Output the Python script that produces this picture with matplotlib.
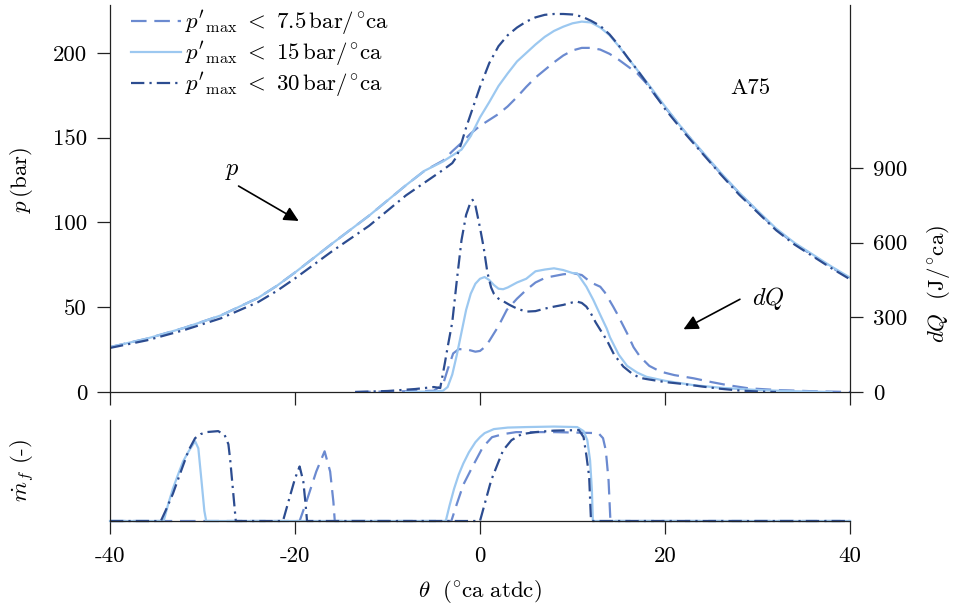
import matplotlib
matplotlib.use("Agg")
import matplotlib.pyplot as plt

plt.rcParams['font.family'] = 'serif'
plt.rcParams['font.serif'] = ['cmr10', 'DejaVu Serif']
plt.rcParams['mathtext.fontset'] = 'cm'
plt.rcParams['axes.unicode_minus'] = False
plt.rcParams['axes.formatter.use_mathtext'] = False

FS = 16.5

# ---------------- data ----------------
labels = [r"$p'_{\mathrm{max}}\ <\ 7.5\,\mathrm{bar}/^{\circ}\mathrm{ca}$",
          r"$p'_{\mathrm{max}}\ <\ 15\,\mathrm{bar}/^{\circ}\mathrm{ca}$",
          r"$p'_{\mathrm{max}}\ <\ 30\,\mathrm{bar}/^{\circ}\mathrm{ca}$"]
colors = ['#6B8AD0', '#9CC8F0', '#2C4C90']

# pressure (bar)
th_p15 = [-40, -36, -32, -28, -24, -22, -20, -18, -16, -12, -8, -6, -4, -3, -2, -1, 0, 1, 2, 3, 4, 5,
          6, 7, 8, 9, 10, 11, 12, 13, 14, 15, 16, 17, 18, 20, 22, 24, 26, 28, 30, 32, 34, 36, 38, 40]
p15 = [26.5, 31.5, 37.8, 45.2, 55.5, 62.5, 70.5, 79, 87.5, 104, 122, 130.5, 136, 139.5, 143, 151, 162,
       171, 180.5, 188, 195, 200, 205, 209.5, 213, 215.5, 217.5, 218.5, 218, 215, 210.5, 204, 197,
       190, 183, 168.5, 154.5, 142, 129.5, 117.7, 107, 96.5, 88, 81, 74, 67.5]

th_p75 = [-40, -36, -32, -28, -24, -22, -20, -18, -16, -12, -8, -6, -4, -3, -2, -1, 0, 1, 2, 3, 4, 5,
          6, 7, 8, 9, 10, 11, 12, 13, 14, 15, 16, 17, 18, 19, 20, 22, 24, 26, 28, 30, 32, 34, 36, 38, 40]
p75 = [26.5, 31.5, 37.8, 45.2, 55.5, 62.5, 70.5, 79, 87.5, 104, 122, 130.5, 136.5, 142, 147, 152.5,
       157, 160.5, 164, 168.5, 174, 180, 185.5, 190, 194.5, 198.5, 201.5, 203, 203, 202, 199.5, 196,
       192, 188, 182, 174.5, 168, 154.5, 141.5, 129, 117.5, 106.5, 96, 87.5, 80.5, 73.5, 67]

th_p30 = [-40, -36, -32, -28, -24, -22, -20, -18, -16, -12, -8, -6, -4, -3, -2.5, -2, -1.5, -1, -0.5,
          0, 0.5, 1, 2, 3, 4, 5, 6, 7, 8, 9, 10, 11, 12, 13, 14, 15, 16, 17, 18, 20, 22, 24, 26, 28,
          30, 32, 34, 36, 38, 40]
p30 = [26, 30.5, 36.5, 43.5, 53, 59.5, 67, 75, 83, 98, 116, 123.5, 131, 135, 139, 147, 156, 164,
       172, 180, 187, 194, 204, 210.5, 215, 218.5, 221, 222.5, 223, 223, 222.7, 221.5, 219, 216,
       211, 204.5, 197, 190, 182.5, 167, 153.5, 141, 128.5, 116.5, 106, 95.5, 87, 80, 73, 66.5]

# heat release rate (J/deg ca)
th_q75 = [-13.5, -8, -5, -4, -3.5, -2.9, -2.3, -1.5, -0.5, 0, 0.5, 1, 2, 2.9, 4, 5, 6, 7, 7.6, 9, 10.1,
          11, 11.5, 12, 13, 13.5, 14.4, 14.8, 15.9, 16.6, 17.3, 18.3, 19.5, 21, 23.1, 25, 26.7, 29,
          32.1, 36, 40]
q75 = [0, 3, 5, 30, 90, 155, 172, 172, 162, 165, 180, 205, 265, 330, 375, 410, 440, 458, 463, 473,
       477, 470, 455, 440, 423, 400, 343, 316, 236, 180, 142, 105, 82, 68, 55, 40, 28, 15, 8, 3, 0]

th_q15 = [-8, -5, -4, -3.5, -3, -2.5, -2, -1.5, -1, -0.5, 0, 0.5, 1, 1.5, 2, 2.5, 3, 3.5, 4, 5, 6, 7,
          8, 9, 10, 10.5, 11, 11.5, 12.25, 13, 13.7, 14.05, 15, 15.9, 17, 18, 20, 23, 26, 30, 34, 38]
q15 = [0, 2, 5, 20, 70, 150, 240, 330, 395, 435, 455, 462, 450, 430, 415, 413, 420, 430, 440, 455,
       485, 492, 497, 490, 478, 477, 450, 423, 370, 310, 255, 220, 150, 105, 78, 61, 45, 28, 17, 8,
       3, 0]

th_q30 = [-13.5, -10, -7, -5, -4.3, -3.8, -3.5, -3, -2.5, -2, -1.5, -1, -0.8, -0.5, 0, 0.4, 0.8, 1.2,
          1.5, 2, 2.5, 3.2, 4, 5, 6, 7, 8, 9, 10, 10.5, 11, 11.5, 12, 12.5, 13, 13.7, 14.5, 15.5, 16.5,
          17.3, 18, 20, 22, 24, 26, 28, 30, 32]
q30 = [0, 4, 12, 20, 16, 116, 180, 280, 450, 610, 712, 765, 772, 750, 660, 580, 480, 420, 395, 375,
       365, 350, 335, 323, 325, 335, 343, 350, 360, 363, 358, 343, 315, 280, 250, 209, 150, 102, 72,
       57, 52, 40, 32, 22, 13, 6, 2, 0]

# injection rate (normalised)
th_m75 = [-40, -19.5, -18.7, -17.7, -16.8, -16.2, -15.85, -15.7, -3.1, -2.5, -1.8, -0.8, 0.3, 1.3,
          2.5, 3.9, 8, 12.8, 13.3, 13.6, 13.9, 14.1, 40]
m75 = [0, 0, 0.21, 0.49, 0.69, 0.49, 0.19, 0, 0, 0.17, 0.36, 0.54, 0.73, 0.83, 0.86, 0.88, 0.88,
       0.87, 0.82, 0.70, 0.40, 0, 0]

th_m15 = [-40, -34.2, -33.7, -33.2, -32.6, -32.1, -31.5, -30.8, -30.45, -30.1, -29.8, -29.6, -3.7,
          -3.3, -2.8, -2.3, -1.8, -1.2, -0.5, 0, 0.5, 1.5, 3, 5, 8, 10.5, 11.2, 11.6, 11.9, 12.1, 12.2, 40]
m15 = [0, 0, 0.17, 0.32, 0.47, 0.59, 0.69, 0.79, 0.72, 0.39, 0.10, 0, 0, 0.15, 0.32, 0.46, 0.57,
       0.68, 0.78, 0.83, 0.87, 0.91, 0.925, 0.93, 0.935, 0.93, 0.89, 0.80, 0.60, 0.30, 0, 0]

th_m30 = [-40, -34.5, -34, -33.2, -32.1, -31.5, -30.8, -30.2, -29.6, -28.3, -27.6, -27.2, -27.0,
          -26.8, -26.6, -26.4, -21.3, -20.5, -20.0, -19.5, -19.1, -18.85, -18.7, 0, 0.6, 1.2, 1.8,
          2.5, 3.4, 4.5, 6, 8, 10.7, 11.2, 11.5, 11.8, 12.0, 40]
m30 = [0, 0, 0.10, 0.27, 0.55, 0.70, 0.82, 0.86, 0.88, 0.89, 0.85, 0.76, 0.60, 0.40, 0.20, 0, 0,
       0.26, 0.42, 0.54, 0.39, 0.16, 0, 0, 0.20, 0.40, 0.54, 0.70, 0.80, 0.86, 0.88, 0.895, 0.90,
       0.83, 0.65, 0.44, 0, 0]

xticks = [-40, -20, 0, 20, 40]
p_ticks = [0, 50, 100, 150, 200]
q_ticks = [0, 300, 600, 900]

# ---------------- styling ----------------
LW = 1.6
styles = [dict(linestyle=(0, (7, 3.5))),
          dict(linestyle='-'),
          dict(linestyle=(0, (6, 2.3, 1, 2.3)))]
SPC = '#222222'

W, H = 958, 610
fig = plt.figure(figsize=(W / 100, H / 100), dpi=100)

ax = fig.add_axes([110 / W, 1 - 392 / H, 740 / W, 387 / H])
axq = ax.twinx()
axm = fig.add_axes([110 / W, 1 - 521 / H, 740 / W, 101 / H])

th_p = [th_p75, th_p15, th_p30]
ps = [p75, p15, p30]
th_q = [th_q75, th_q15, th_q30]
qs = [q75, q15, q30]
th_m = [th_m75, th_m15, th_m30]
ms = [m75, m15, m30]

handles = []
for i in range(3):
    h, = ax.plot(th_p[i], ps[i], color=colors[i], lw=LW, label=labels[i], **styles[i])
    handles.append(h)
    axq.plot(th_q[i], qs[i], color=colors[i], lw=LW, **styles[i])
    axm.plot(th_m[i], ms[i], color=colors[i], lw=LW, clip_on=False, **styles[i])

ax.set_xlim(-40, 40)
ax.set_ylim(0, 228.3)
axq.set_ylim(0, 1555)
axm.set_xlim(-40, 40)
axm.set_ylim(0, 1.0)

for a in (ax, axq, axm):
    a.set_facecolor('none')
    for s in a.spines.values():
        s.set_color(SPC)
        s.set_linewidth(0.9)
    a.tick_params(direction='out', length=9.5, width=0.9, color=SPC, labelsize=FS, pad=7)

ax.spines['top'].set_visible(False)
ax.spines['right'].set_visible(False)
axq.spines['top'].set_visible(False)
axq.spines['left'].set_visible(False)
axq.spines['bottom'].set_visible(False)
axm.spines['top'].set_visible(False)
axm.spines['right'].set_visible(False)

ax.set_xticks(xticks)
ax.tick_params(axis='x', labelbottom=False)
ax.set_yticks(p_ticks)
axq.set_yticks(q_ticks)
axm.set_xticks(xticks)
axm.set_xticklabels([str(t) for t in xticks])
axm.tick_params(axis='x', pad=9)
axm.set_yticks([])

ax.set_ylabel(r"$p\,(\mathrm{bar})$", fontsize=FS)
ax.yaxis.set_label_coords(-0.102, 0.548)
axq.set_ylabel(r"$dQ\ \ (\mathrm{J}/^{\circ}\mathrm{ca})$", fontsize=FS)
axq.yaxis.set_label_coords(1.102, 0.28)
axm.set_ylabel(r"$\dot{m}_f$ (-)", fontsize=FS)
axm.yaxis.set_label_coords(-0.098, 0.5)
axm.set_xlabel(r"$\theta\ \ (^{\circ}\mathrm{ca\ atdc})$", fontsize=FS)
axm.xaxis.set_label_coords(0.5, -0.56)

ax.legend(handles=handles, loc='upper left', bbox_to_anchor=(18 / 740, 1.0),
          frameon=False, fontsize=FS, handlelength=2.15, handletextpad=0.2,
          labelspacing=0.1, borderpad=0.15, borderaxespad=0.0)

ax.text(29.2, 179, "A75", fontsize=FS, ha='center', va='center')

arrow = dict(arrowstyle='-|>', color='black', lw=1.2, mutation_scale=22,
             shrinkA=0, shrinkB=0)
ax.text(-26.8, 130.5, r"$p$", fontsize=FS + 1, ha='center', va='center')
ax.annotate('', xy=(-19.6, 100.9), xytext=(-26.1, 121.5), arrowprops=arrow)
ax.text(31.2, 55.3, r"$dQ$", fontsize=FS + 1, ha='center', va='center')
ax.annotate('', xy=(22.0, 37.0), xytext=(28.1, 54.7), arrowprops=arrow)

fig.savefig('out.png', dpi=100)
